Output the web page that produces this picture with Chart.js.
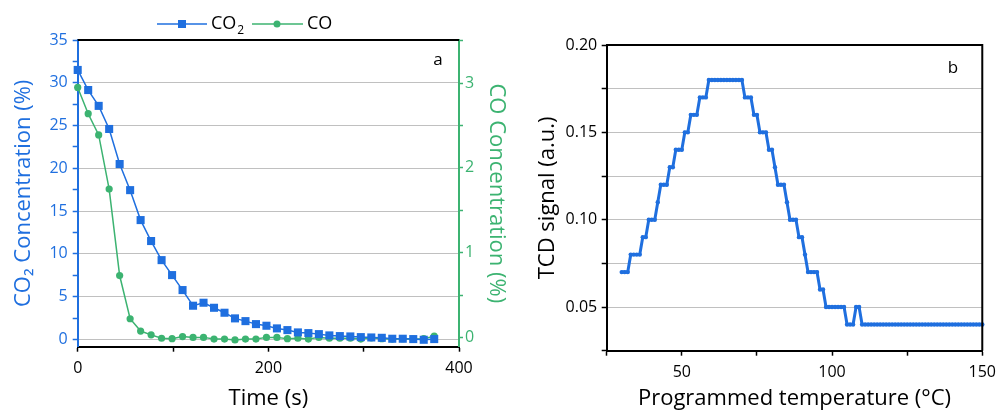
<!DOCTYPE html>
<html>
<head>
<meta charset="utf-8">
<script src="https://cdn.jsdelivr.net/npm/chart.js@4.4.1/dist/chart.umd.min.js"></script>
<style>
  html, body { margin: 0; padding: 0; background: #fff; }
  #wrap { position: relative; width: 1003px; height: 410px; overflow: hidden; }
  #boxA { position: absolute; left: 0; top: 0; width: 520px; height: 410px; }
  #boxB { position: absolute; left: 520px; top: 0; width: 483px; height: 410px; }
</style>
</head>
<body>
<div id="wrap">
  <div id="boxA"><canvas id="chartA" width="520" height="410"></canvas></div>
  <div id="boxB"><canvas id="chartB" width="483" height="410"></canvas></div>
</div>
<script>
// --- panel a : CO2 / CO outlet concentration vs time ---
const timeS = [0, 11, 22, 33, 44, 55, 66, 77, 88, 99, 110, 121, 132, 143, 154, 165, 176, 187,
  198, 209, 220, 231, 242, 253, 264, 275, 286, 297, 308, 319, 330, 341, 352, 363, 374];
const co2Pct = [31.5, 29.15, 27.3, 24.6, 20.5, 17.45, 13.95, 11.5, 9.27, 7.52, 5.77, 3.94, 4.29,
  3.7, 3.12, 2.46, 2.14, 1.79, 1.6, 1.29, 1.09, 0.82, 0.74, 0.62, 0.47, 0.39, 0.35, 0.27, 0.23,
  0.19, 0.08, 0.08, 0.04, -0.04, 0.04];
const coPct = [2.95, 2.64, 2.39, 1.75, 0.73, 0.22, 0.075, 0.03, -0.01, -0.015, 0.01, 0.0, 0.0,
  -0.02, -0.02, -0.03, -0.02, -0.02, 0.0, 0.0, -0.015, -0.01, -0.02, 0.0, -0.01, -0.01, -0.01,
  -0.02, -0.005, -0.015, -0.02, -0.015, -0.02, -0.015, 0.015];
const timeTicks = [0, 100, 200, 300, 400];
const co2Ticks = [0, 2.5, 5, 7.5, 10, 12.5, 15, 17.5, 20, 22.5, 25, 27.5, 30, 32.5, 35];
const coTicks = [0, 0.5, 1, 1.5, 2, 2.5, 3, 3.5];

// --- panel b : TCD signal vs programmed temperature ---
const tempC = [30, 31, 32, 33, 34, 35, 36, 37, 38, 39,
  40, 41, 42, 43, 44, 45, 46, 47, 48, 49,
  50, 51, 52, 53, 54, 55, 56, 57, 58, 59,
  60, 61, 62, 63, 64, 65, 66, 67, 68, 69,
  70, 71, 72, 73, 74, 75, 76, 77, 78, 79,
  80, 81, 82, 83, 84, 85, 86, 87, 88, 89,
  90, 91, 92, 93, 94, 95, 96, 97, 98, 99,
  100, 101, 102, 103, 104, 105, 106, 107, 108, 109,
  110, 111, 112, 113, 114, 115, 116, 117, 118, 119,
  120, 121, 122, 123, 124, 125, 126, 127, 128, 129,
  130, 131, 132, 133, 134, 135, 136, 137, 138, 139,
  140, 141, 142, 143, 144, 145, 146, 147, 148, 149, 150];
const tcdSignal = [0.07, 0.07, 0.07, 0.08, 0.08, 0.08, 0.08, 0.09, 0.09, 0.10,
  0.10, 0.10, 0.11, 0.12, 0.12, 0.12, 0.13, 0.13, 0.14, 0.14,
  0.14, 0.15, 0.15, 0.16, 0.16, 0.16, 0.17, 0.17, 0.17, 0.18,
  0.18, 0.18, 0.18, 0.18, 0.18, 0.18, 0.18, 0.18, 0.18, 0.18,
  0.18, 0.17, 0.17, 0.17, 0.16, 0.16, 0.15, 0.15, 0.15, 0.14,
  0.14, 0.13, 0.12, 0.12, 0.12, 0.11, 0.10, 0.10, 0.10, 0.09,
  0.09, 0.08, 0.07, 0.07, 0.07, 0.07, 0.06, 0.06, 0.05, 0.05,
  0.05, 0.05, 0.05, 0.05, 0.05, 0.04, 0.04, 0.04, 0.05, 0.05,
  0.04, 0.04, 0.04, 0.04, 0.04, 0.04, 0.04, 0.04, 0.04, 0.04,
  0.04, 0.04, 0.04, 0.04, 0.04, 0.04, 0.04, 0.04, 0.04, 0.04,
  0.04, 0.04, 0.04, 0.04, 0.04, 0.04, 0.04, 0.04, 0.04, 0.04,
  0.04, 0.04, 0.04, 0.04, 0.04, 0.04, 0.04, 0.04, 0.04, 0.04, 0.04];
const tempTicks = [25, 50, 75, 100, 125, 150];
const tcdTicks = [0.025, 0.05, 0.075, 0.1, 0.125, 0.15, 0.175, 0.2];

const FONT = "'Open Sans', 'Noto Sans', sans-serif";
const BLUE = '#1f6fdf';
const GREEN = '#3cb371';
const GRID = '#c0c0c0';

function isMult(v, step) {
  return Math.abs(v / step - Math.round(v / step)) < 1e-6;
}
function asTicks(arr) {
  return arr.map(v => ({ value: v }));
}

// plugin: black frame lines + panel letter
const framePlugin = {
  id: 'frame',
  afterDatasetsDraw(chart, args, opts) {
    const { ctx, chartArea: a } = chart;
    ctx.save();
    ctx.strokeStyle = '#000';
    ctx.lineWidth = 2;
    ctx.beginPath();
    ctx.moveTo(a.left, a.top);
    ctx.lineTo(a.right, a.top);
    if (opts.right) {
      ctx.lineTo(a.right, a.bottom);
    }
    ctx.stroke();
    ctx.fillStyle = '#000';
    ctx.font = '17px ' + FONT;
    ctx.textAlign = 'center';
    ctx.textBaseline = 'middle';
    ctx.fillText(opts.letter, opts.lx, opts.ly);
    ctx.restore();
  }
};

// legend of panel a: line + marker + label, like the original
const legendPlugin = {
  id: 'lineLegend',
  afterDraw(chart) {
    const ctx = chart.ctx;
    const y = 24;
    ctx.save();
    ctx.lineWidth = 1.5;
    // CO2
    ctx.strokeStyle = BLUE;
    ctx.beginPath(); ctx.moveTo(157, y); ctx.lineTo(207, y); ctx.stroke();
    ctx.fillStyle = BLUE;
    ctx.fillRect(178, y - 4, 8, 8);
    ctx.fillStyle = '#000';
    ctx.font = '18px ' + FONT;
    ctx.textBaseline = 'middle';
    ctx.textAlign = 'left';
    ctx.fillText('CO', 211, y);
    const w = ctx.measureText('CO').width;
    ctx.font = '12px ' + FONT;
    ctx.fillText('2', 211 + w + 1, y + 7);
    // CO
    ctx.strokeStyle = GREEN;
    ctx.beginPath(); ctx.moveTo(252, y); ctx.lineTo(303, y); ctx.stroke();
    ctx.fillStyle = GREEN;
    ctx.beginPath(); ctx.arc(277, y, 3.5, 0, Math.PI * 2); ctx.fill();
    ctx.fillStyle = '#000';
    ctx.font = '18px ' + FONT;
    ctx.fillText('CO', 307, y);
    ctx.restore();
  }
};

const tickFont = { family: FONT, size: 16 };
const titleFont = { family: FONT, size: 22, lineHeight: 1 };

new Chart(document.getElementById('chartA'), {
  type: 'line',
  data: {
    datasets: [
      {
        label: 'CO\u2082',
        data: timeS.map((t, i) => ({ x: t, y: co2Pct[i] })),
        yAxisID: 'y',
        borderColor: BLUE,
        backgroundColor: BLUE,
        borderWidth: 1.5,
        pointStyle: 'rect',
        pointRadius: 5.7,
        pointBorderWidth: 0,
        clip: false
      },
      {
        label: 'CO',
        data: timeS.map((t, i) => ({ x: t, y: coPct[i] })),
        yAxisID: 'y1',
        borderColor: GREEN,
        backgroundColor: GREEN,
        borderWidth: 1.5,
        pointStyle: 'circle',
        pointRadius: 3.6,
        pointBorderWidth: 0,
        clip: false
      }
    ]
  },
  options: {
    responsive: false,
    animation: false,
    layout: { padding: { top: 40, left: 0, right: 0, bottom: 0 } },
    plugins: {
      legend: { display: false },
      tooltip: { enabled: false },
      frame: { letter: 'a', lx: 438, ly: 60, right: false }
    },
    scales: {
      x: {
        type: 'linear',
        min: 0,
        max: 400,
        afterBuildTicks: s => { s.ticks = asTicks(timeTicks); },
        afterFit: s => { s.height = 63.3; },
        ticks: {
          font: tickFont, color: '#000', padding: 7, maxRotation: 0, autoSkip: false,
          callback: v => (isMult(v, 200) ? v : '')
        },
        grid: { drawOnChartArea: false, tickLength: 5, tickColor: '#000', tickWidth: 1.5 },
        border: { color: '#000', width: 2 },
        title: { display: true, text: 'Time (s)', font: titleFont, color: '#000', padding: { bottom: 0.5, top: 0 } }
      },
      y: {
        position: 'left',
        min: -0.85,
        max: 35,
        afterBuildTicks: s => { s.ticks = asTicks(co2Ticks); },
        afterFit: s => { s.width = 77.7; },
        ticks: {
          font: tickFont, color: BLUE, padding: 5, autoSkip: false,
          callback: v => (isMult(v, 5) ? v : '')
        },
        grid: {
          tickLength: 5, tickColor: BLUE, tickWidth: 1.5, lineWidth: 1,
          color: c => (c.tick && isMult(c.tick.value, 5) && c.tick.value < 34 ? GRID : 'rgba(0,0,0,0)')
        },
        border: { color: BLUE, width: 2 },
        title: { display: true, text: 'CO\u2082 Concentration (%)', font: titleFont, color: BLUE, padding: { top: 13, bottom: 0 } }
      },
      y1: {
        position: 'right',
        min: -0.11,
        max: 3.51,
        afterBuildTicks: s => { s.ticks = asTicks(coTicks); },
        afterFit: s => { s.width = 61; },
        ticks: {
          font: tickFont, color: GREEN, padding: 2, autoSkip: false,
          callback: v => (isMult(v, 1) ? v : '')
        },
        grid: { drawOnChartArea: false, tickLength: 4, tickColor: GREEN, tickWidth: 1.5 },
        border: { color: GREEN, width: 2 },
        title: { display: true, text: 'CO Concentration (%)', font: titleFont, color: GREEN, padding: { top: 13, bottom: 0 } }
      }
    }
  },
  plugins: [framePlugin, legendPlugin]
});

new Chart(document.getElementById('chartB'), {
  type: 'line',
  data: {
    datasets: [{
      label: 'TCD signal',
      data: tempC.map((t, i) => ({ x: t, y: tcdSignal[i] })),
      borderColor: BLUE,
      backgroundColor: BLUE,
      borderWidth: 3,
      pointStyle: 'circle',
      pointRadius: 2.2,
      pointBorderWidth: 0,
      clip: false
    }]
  },
  options: {
    responsive: false,
    animation: false,
    layout: { padding: { top: 45, left: 0, right: 17, bottom: 0 } },
    plugins: {
      legend: { display: false },
      tooltip: { enabled: false },
      frame: { letter: 'b', lx: 433, ly: 68, right: true }
    },
    scales: {
      x: {
        type: 'linear',
        min: 25,
        max: 150,
        afterBuildTicks: s => { s.ticks = asTicks(tempTicks); },
        afterFit: s => { s.height = 59.3; },
        ticks: {
          font: tickFont, color: '#000', padding: 7, maxRotation: 0, autoSkip: false,
          callback: v => (isMult(v, 50) ? v : '')
        },
        grid: { drawOnChartArea: false, tickLength: 5, tickColor: '#000', tickWidth: 1.5 },
        border: { color: '#000', width: 2 },
        title: { display: true, text: 'Programmed temperature (\u00b0C)', font: titleFont, color: '#000', padding: { bottom: 0.5, top: 0 } }
      },
      y: {
        position: 'left',
        min: 0.025,
        max: 0.2,
        afterBuildTicks: s => { s.ticks = asTicks(tcdTicks); },
        afterFit: s => { s.width = 86.7; },
        ticks: {
          font: tickFont, color: '#000', padding: 4.5, autoSkip: false,
          callback: v => (isMult(v, 0.05) ? v.toFixed(2) : '')
        },
        grid: {
          tickLength: 5, tickColor: '#000', tickWidth: 1.5, lineWidth: 1,
          color: c => (c.tick && c.tick.value > 0.03 && c.tick.value < 0.19 ? GRID : 'rgba(0,0,0,0)')
        },
        border: { color: '#000', width: 2 },
        title: { display: true, text: 'TCD signal (a.u.)', font: titleFont, color: '#000', padding: { top: 17, bottom: 0 } }
      }
    }
  },
  plugins: [framePlugin]
});
</script>
</body>
</html>
